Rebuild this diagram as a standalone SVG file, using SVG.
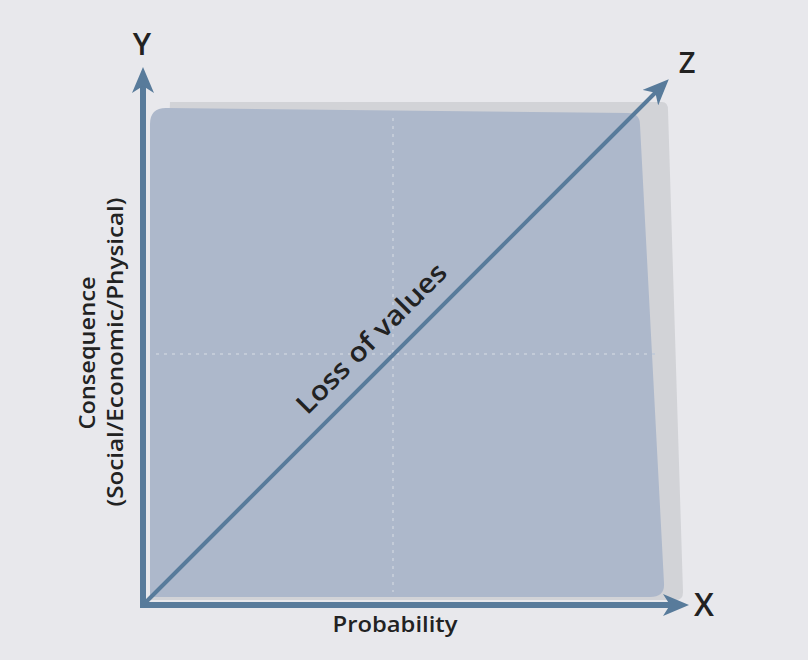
<svg xmlns="http://www.w3.org/2000/svg" width="808" height="660" viewBox="0 0 808 660">
<style>
.lbl{font-family:"Open Sans","Liberation Sans",sans-serif;fill:#222;}
.axis{stroke:#587b9b;fill:none;stroke-linecap:butt;}
.grid{stroke:#c3cbd8;stroke-width:2;stroke-dasharray:3 5;fill:none;}
</style>
<defs>
<marker id="ah" markerUnits="userSpaceOnUse" markerWidth="26" markerHeight="22" viewBox="0 0 26 22" refX="15" refY="11" orient="auto">
<path d="M0,0 L26,11 L0,22 L7,11 z" fill="#587b9b"/>
</marker>
</defs>
<rect width="808" height="660" fill="#e8e8ec"/>
<g id="panel">
<path d="M170,102 L662,102 Q668,102 668,110 L683,592 Q683,600 676,600 L150,600 Z" fill="#d2d3d7"/>
<path d="M166,108 L628,113 Q640,113 640,125 L664,583 Q665,597 650,597 L150,597 L150,124 Q150,108 166,108 Z" fill="#adb8cb"/>
<line class="grid" x1="393" y1="118" x2="393" y2="592"/>
<line class="grid" x1="156" y1="354" x2="655" y2="354"/>
</g>
<g id="connectors">
<line class="axis" stroke-width="6" x1="143" y1="608" x2="143" y2="78" marker-end="url(#ah)"/>
<line class="axis" stroke-width="6" x1="140" y1="605" x2="678" y2="605" marker-end="url(#ah)"/>
<line class="axis" stroke-width="4" x1="143" y1="605" x2="661" y2="87" marker-end="url(#ah)"/>
</g>
<g id="label-y"><text class="lbl" x="142" y="55" font-size="31" font-weight="600" text-anchor="middle">Y</text></g>
<g id="label-x"><text class="lbl" x="704" y="616" font-size="32" font-weight="600" text-anchor="middle">X</text></g>
<g id="label-z"><text class="lbl" x="687" y="73" font-size="29" font-weight="600" text-anchor="middle">Z</text></g>
<g id="label-probability"><text class="lbl" x="395" y="632" font-size="22" font-weight="600" text-anchor="middle" textLength="125" lengthAdjust="spacingAndGlyphs">Probability</text></g>
<g id="label-consequence">
<text class="lbl" transform="translate(95,353) rotate(-90)" font-size="22" font-weight="600" text-anchor="middle" textLength="153" lengthAdjust="spacingAndGlyphs">Consequence</text>
<text class="lbl" transform="translate(123,352) rotate(-90)" font-size="22" font-weight="600" text-anchor="middle" textLength="309" lengthAdjust="spacingAndGlyphs">(Social/Economic/Physical)</text>
</g>
<g id="label-loss"><text class="lbl" transform="translate(378,345) rotate(-45)" font-size="27" font-weight="600" text-anchor="middle" textLength="200" lengthAdjust="spacingAndGlyphs">Loss of values</text></g>
</svg>
